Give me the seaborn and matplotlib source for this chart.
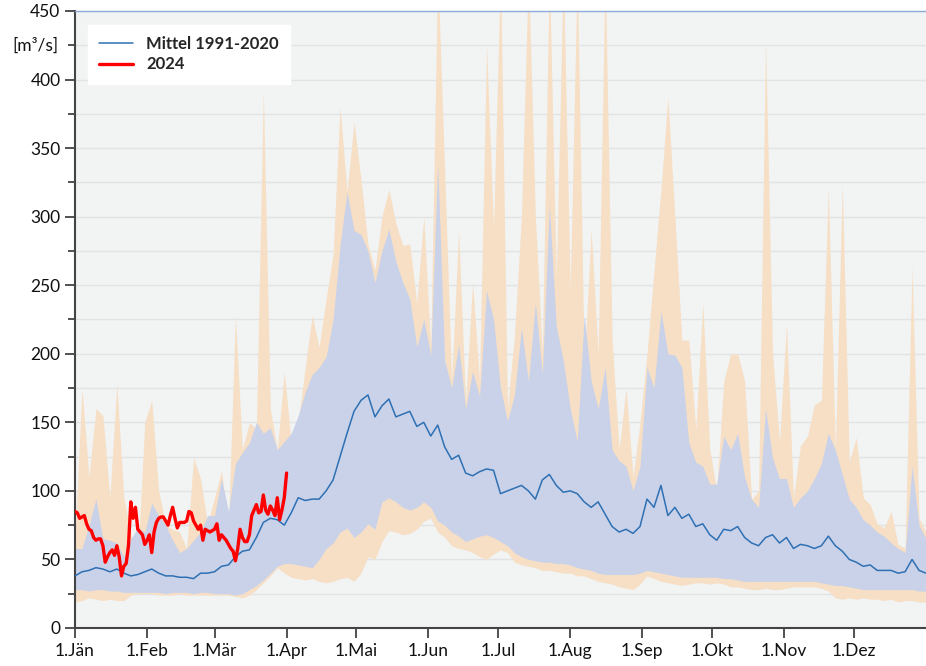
import matplotlib
matplotlib.use("Agg")
import matplotlib.pyplot as plt
from matplotlib.ticker import MultipleLocator
import seaborn as sns
import numpy as np
import pandas as pd

# sample days (every 3rd day of the year, 0 = 1. Jan)
days = list(range(0, 367, 3))

q_max = [65, 175, 110, 160, 155, 95, 178, 95, 68, 50, 150, 166, 100, 75, 72, 70, 58, 124, 109, 76,
         95, 115, 75, 228, 130, 150, 145, 392, 160, 130, 187, 135, 150, 190, 228, 205, 240, 273, 380, 318,
         369, 327, 280, 261, 300, 320, 295, 279, 280, 237, 300, 204, 480, 333, 180, 290, 165, 252, 180, 425,
         291, 480, 160, 213, 300, 480, 300, 200, 480, 255, 480, 246, 480, 193, 291, 200, 480, 210, 130, 175,
         110, 150, 200, 260, 320, 387, 300, 210, 210, 145, 237, 130, 100, 180, 200, 200, 180, 94, 100, 428,
         200, 136, 222, 95, 133, 140, 163, 166, 321, 130, 324, 121, 139, 95, 90, 76, 73, 85, 61, 58,
         264, 80, 70]

q_upper = [58, 58, 75, 94, 65, 64, 62, 52, 65, 73, 70, 91, 82, 75, 64, 55, 58, 64, 70, 82,
           82, 109, 85, 120, 128, 135, 150, 142, 146, 130, 136, 142, 155, 172, 185, 190, 198, 225, 279, 318,
           290, 287, 275, 252, 275, 291, 267, 252, 240, 205, 225, 199, 339, 195, 175, 207, 160, 187, 169, 246,
           225, 175, 151, 170, 219, 180, 237, 185, 309, 220, 195, 160, 136, 228, 180, 160, 190, 130, 122, 118,
           100, 118, 190, 175, 231, 200, 199, 190, 135, 121, 118, 105, 105, 140, 130, 142, 110, 94, 88, 160,
           124, 109, 109, 88, 95, 100, 109, 120, 142, 130, 112, 94, 88, 79, 75, 70, 67, 62, 58, 55,
           118, 75, 65]

q_mean = [38, 41, 42, 44, 43, 41, 43, 40, 38, 39, 41, 43, 40, 38, 38, 37, 37, 36, 40, 40,
          41, 45, 46, 52, 56, 57, 66, 77, 80, 79, 75, 84, 95, 93, 94, 94, 100, 108, 125, 142,
          158, 166, 170, 154, 162, 167, 154, 156, 158, 147, 150, 140, 148, 132, 123, 126, 113, 111, 114, 116,
          115, 98, 100, 102, 104, 100, 94, 108, 112, 104, 99, 100, 98, 92, 88, 92, 83, 74, 70, 72,
          69, 74, 94, 88, 104, 82, 88, 80, 83, 74, 76, 68, 64, 72, 71, 74, 66, 62, 60, 66,
          68, 62, 66, 58, 61, 60, 58, 60, 67, 60, 56, 50, 48, 45, 46, 42, 42, 42, 40, 41,
          50, 42, 40]

q_lower = [28, 28, 27, 28, 28, 27, 27, 26, 26, 26, 26, 26, 26, 25, 26, 26, 26, 25, 26, 26,
           25, 25, 25, 24, 25, 28, 31, 35, 40, 45, 47, 47, 46, 45, 44, 50, 58, 62, 70, 73,
           66, 70, 76, 72, 92, 95, 92, 88, 86, 88, 92, 88, 78, 75, 70, 67, 63, 65, 67, 68,
           66, 63, 60, 55, 52, 50, 49, 48, 48, 47, 47, 46, 44, 43, 42, 40, 39, 39, 39, 39,
           39, 40, 42, 41, 40, 39, 38, 37, 37, 37, 37, 37, 37, 36, 36, 35, 34, 34, 34, 34,
           34, 34, 34, 34, 34, 34, 34, 33, 32, 31, 31, 30, 29, 28, 28, 28, 28, 28, 28, 28,
           28, 27, 27]

q_min = [19, 20, 22, 21, 20, 21, 20, 20, 24, 25, 25, 25, 24, 24, 24, 25, 24, 24, 24, 24,
         24, 24, 24, 23, 22, 24, 28, 33, 38, 44, 40, 37, 36, 35, 36, 34, 33, 34, 36, 37,
         34, 40, 52, 50, 63, 71, 70, 68, 69, 72, 78, 80, 70, 66, 60, 58, 57, 55, 52, 50,
         54, 57, 55, 48, 46, 45, 44, 42, 42, 41, 40, 40, 38, 38, 36, 34, 33, 32, 30, 29,
         28, 32, 38, 36, 34, 33, 32, 31, 32, 33, 33, 32, 33, 32, 30, 30, 29, 28, 28, 29,
         28, 28, 29, 30, 30, 30, 30, 29, 27, 22, 21, 22, 21, 22, 21, 21, 20, 21, 19, 20,
         20, 19, 19]

# 2024, daily values 1. Jan - 1. Apr
q_2024 = [85, 84, 80, 81, 82, 76, 72, 71, 66, 64, 65, 65, 60, 48, 52, 55, 57, 53, 60, 52,
          38, 45, 47, 60, 92, 80, 88, 72, 70, 68, 61, 64, 68, 55, 70, 77, 80, 81, 81, 78,
          75, 82, 88, 80, 73, 77, 77, 77, 78, 85, 84, 78, 75, 72, 75, 64, 72, 71, 70, 71,
          72, 76, 64, 68, 66, 64, 61, 58, 56, 49, 58, 72, 66, 63, 63, 68, 82, 86, 90, 84,
          85, 97, 86, 83, 89, 86, 82, 95, 79, 86, 95, 113]

month_starts = [0, 31, 60, 91, 121, 152, 182, 213, 244, 274, 305, 335]
month_labels = ["1.Jän", "1.Feb", "1.Mär", "1.Apr", "1.Mai", "1.Jun",
                "1.Jul", "1.Aug", "1.Sep", "1.Okt", "1.Nov", "1.Dez"]

df = pd.DataFrame({"day": days, "max": q_max, "upper": q_upper,
                   "mean": q_mean, "lower": q_lower, "min": q_min})
df24 = pd.DataFrame({"day": np.arange(len(q_2024)), "q": q_2024})

sns.set_style("white")
plt.rcParams["font.family"] = ["Lato", "DejaVu Sans"]

fig = plt.figure(figsize=(9.26, 6.66), dpi=100)
ax = fig.add_axes([75 / 926, 38 / 666, 851 / 926, 617 / 666])
ax.set_facecolor("#f2f3f3")

# min-max band and inner band
ax.fill_between(df["day"], df["min"], df["max"], color="#f6dfc5", lw=0, zorder=1)
ax.fill_between(df["day"], df["lower"], df["upper"], color="#c9d2e9", lw=0, zorder=2)

sns.lineplot(data=df, x="day", y="mean", ax=ax, color="#2e70b3", lw=1.1,
             label="Mittel 1991-2020", zorder=4)
sns.lineplot(data=df24, x="day", y="q", ax=ax, color="#ff0000", lw=2.4,
             label="2024", zorder=5)

ax.set_xlim(0, 366)
ax.set_ylim(0, 450)
ax.yaxis.set_major_locator(MultipleLocator(50))
ax.yaxis.set_minor_locator(MultipleLocator(25))
ax.set_xticks(month_starts)
ax.set_xticklabels(month_labels)
ax.grid(which="both", axis="y", color="#e2e4e4", lw=1, zorder=0)
ax.set_axisbelow(True)
ax.set_xlabel("")
ax.set_ylabel("")

ax.tick_params(axis="both", which="major", direction="out", length=7, width=1.2,
               color="#333333", labelsize=12.5, labelcolor="#111111", left=True, bottom=True)
ax.tick_params(axis="y", which="minor", direction="out", length=5, width=1.2,
               color="#333333", left=True)

for side in ["left", "bottom"]:
    ax.spines[side].set_color("#444444")
    ax.spines[side].set_linewidth(1.5)
ax.spines["right"].set_visible(False)
ax.spines["top"].set_color("#8eaadb")
ax.spines["top"].set_linewidth(1)

fig.text(12 / 926, 1 - 46 / 666, "[m³/s]", fontsize=12.5, color="#111111", va="center")

leg = ax.legend(loc="upper left", bbox_to_anchor=(0.015, 0.978), borderaxespad=0,
                frameon=True, fancybox=False, framealpha=1, edgecolor="white",
                fontsize=12, handlelength=2.0, borderpad=0.7, labelspacing=0.25)
for t in leg.get_texts():
    t.set_fontweight("bold")

fig.savefig("out.png", dpi=100)
